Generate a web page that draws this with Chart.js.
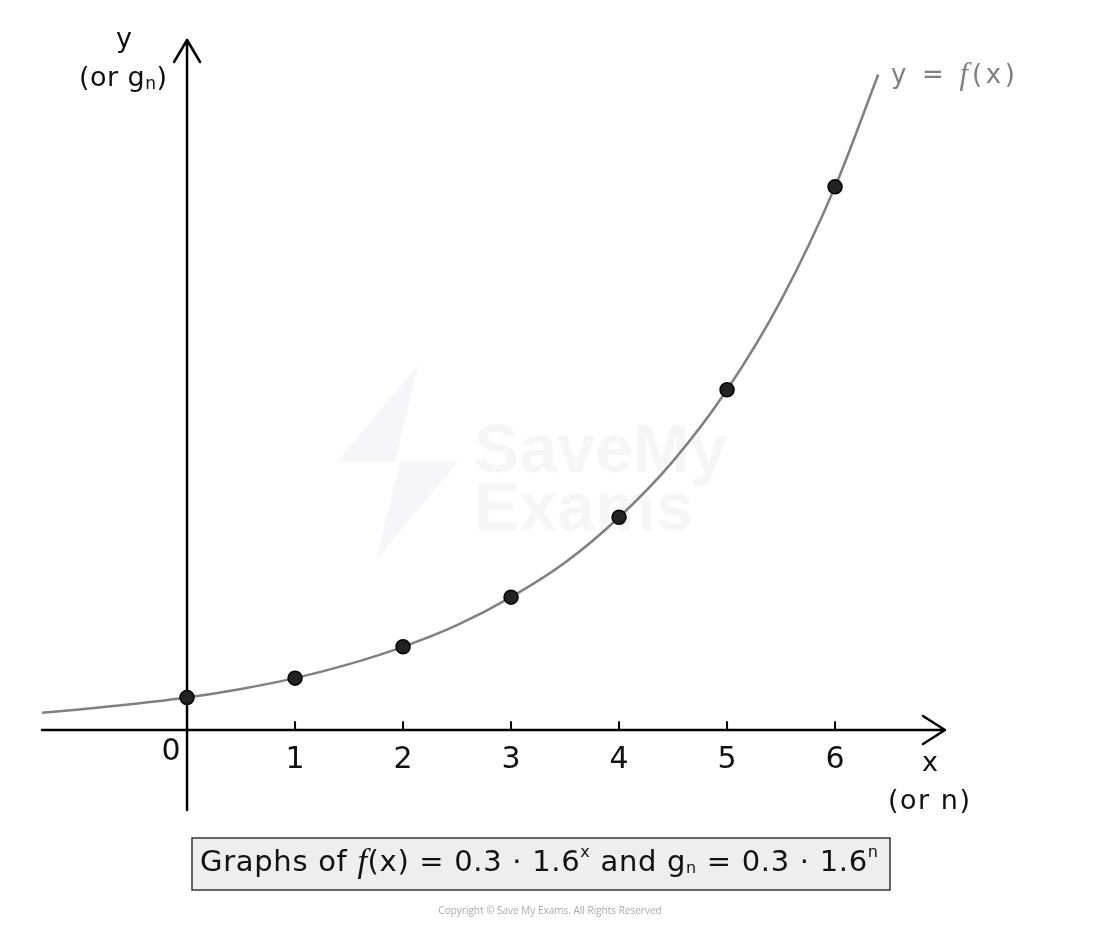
<!DOCTYPE html>
<html>
<head>
<meta charset="utf-8">
<script src="https://cdn.jsdelivr.net/npm/chart.js@4.4.1/dist/chart.umd.min.js"></script>
<style>
  html, body { margin: 0; padding: 0; background: #fff; }
  #wrap { width: 1100px; height: 926px; }
</style>
</head>
<body>
<div id="wrap"><canvas id="chart" width="1100" height="926"></canvas></div>
<script>
// sequence points g_n
const nValues = [0, 1, 2, 3, 4, 5, 6];
const gValues = [0.30, 0.48, 0.77, 1.23, 1.97, 3.15, 5.03];

// curve y = f(x)
const curveX = [-1.35, -1, -0.5, 0, 0.5, 1, 1.5, 2, 2.5, 3, 3.5, 4, 4.5, 5, 5.5, 6, 6.4];
const curveY = [0.16, 0.19, 0.24, 0.30, 0.38, 0.48, 0.61, 0.77, 0.97, 1.23, 1.55, 1.97, 2.49, 3.15, 3.98, 5.03, 6.07];

const xTicks = [1, 2, 3, 4, 5, 6];

const FONT = '"DejaVu Sans", sans-serif';
const FITAL = 'italic 400 31px "Liberation Serif", serif';

// draw text runs spread to a given width
function drawRunsFit(ctx, runs, x, y, width) {
  ctx.textAlign = 'left';
  ctx.textBaseline = 'middle';
  ctx.letterSpacing = '0px';
  let natural = 0, chars = 0;
  runs.forEach(r => { ctx.font = r[1]; natural += ctx.measureText(r[0]).width; chars += r[0].length; });
  const gap = width ? Math.max(0, (width - natural) / Math.max(1, chars - 1)) : 0;
  runs.forEach(r => {
    ctx.font = r[1];
    for (const ch of r[0]) {
      ctx.fillText(ch, x, y + r[2]);
      x += ctx.measureText(ch).width + gap;
    }
  });
}

const axesPlugin = {
  id: 'axesPlugin',
  beforeDatasetsDraw(chart) {
    const ctx = chart.ctx;
    const xs = chart.scales.x, ys = chart.scales.y;
    const x0 = xs.getPixelForValue(0), y0 = ys.getPixelForValue(0);
    const left = xs.left, right = xs.right, top = ys.top, bottom = ys.bottom;

    // watermark
    ctx.save();
    ctx.fillStyle = '#f6f6f8';
    ctx.beginPath();
    ctx.moveTo(418, 365); ctx.lineTo(337, 462); ctx.lineTo(400, 462);
    ctx.lineTo(376, 560); ctx.lineTo(458, 462); ctx.lineTo(395, 462); ctx.closePath();
    ctx.fill();
    ctx.fillStyle = '#f6f6f6';
    ctx.font = 'bold 68px "Liberation Sans", sans-serif';
    ctx.textBaseline = 'alphabetic';
    ctx.fillText('SaveMy', 474, 472);
    ctx.fillText('Exams', 474, 530);
    ctx.restore();

    ctx.save();
    ctx.strokeStyle = '#000';
    ctx.lineWidth = 2.5;
    ctx.lineCap = 'round';
    ctx.lineJoin = 'round';
    // x axis
    ctx.beginPath();
    ctx.moveTo(left, y0); ctx.lineTo(right, y0);
    ctx.moveTo(right - 22, y0 - 14); ctx.lineTo(right, y0); ctx.lineTo(right - 22, y0 + 14);
    // y axis
    ctx.moveTo(x0, bottom); ctx.lineTo(x0, top);
    ctx.moveTo(x0 - 13, top + 22); ctx.lineTo(x0, top); ctx.lineTo(x0 + 13, top + 22);
    ctx.stroke();

    // ticks
    ctx.lineWidth = 2;
    ctx.beginPath();
    xTicks.forEach(t => {
      const px = xs.getPixelForValue(t);
      ctx.moveTo(px, y0 - 8); ctx.lineTo(px, y0);
    });
    ctx.stroke();

    ctx.fillStyle = '#111';
    ctx.textAlign = 'center';
    ctx.textBaseline = 'middle';
    ctx.font = '30px ' + FONT;
    xTicks.forEach(t => ctx.fillText(String(t), xs.getPixelForValue(t), y0 + 30));
    ctx.fillText('0', x0 - 16, y0 + 22);

    // axis labels
    ctx.font = '27px ' + FONT;
    ctx.fillText('x', 930, 764);
    ctx.fillText('y', 124, 40);
    drawRunsFit(ctx, [['(or n)', '27px ' + FONT, 0]], 888, 802, 82);
    drawRunsFit(ctx, [['(or g', '27px ' + FONT, 0], ['n', '17px ' + FONT, 6], [')', '27px ' + FONT, 0]], 79, 79, 88);
    ctx.restore();
  },
  afterDraw(chart) {
    const ctx = chart.ctx;
    ctx.save();
    // curve label
    ctx.fillStyle = '#808080';
    drawRunsFit(ctx, [['y = ', '26px ' + FONT, 0], ['f', FITAL, 0], ['(x)', '26px ' + FONT, 0]], 891, 76, 124);

    // caption box
    ctx.fillStyle = '#eeeeee';
    ctx.fillRect(192, 838, 698, 52);
    ctx.strokeStyle = '#333';
    ctx.lineWidth = 1.5;
    ctx.strokeRect(192, 838, 698, 52);
    ctx.fillStyle = '#111';
    const base = '29px ' + FONT, sup = '16px ' + FONT;
    const runs2 = [
      ['Graphs of ', base, 0],
      ['f', 'italic 400 34px "Liberation Serif", serif', 0],
      ['(x) = 0.3 · 1.6', base, 0],
      ['x', sup, -10],
      [' and g', base, 0],
      ['n', sup, 6],
      [' = 0.3 · 1.6', base, 0],
      ['n', sup, -10]
    ];
    drawRunsFit(ctx, runs2, 200, 863, 678);

    // copyright
    ctx.fillStyle = '#aaaaaa';
    ctx.font = '10px "Open Sans", sans-serif';
    ctx.textAlign = 'center';
    ctx.fillText('Copyright © Save My Exams. All Rights Reserved', 550, 911);
    ctx.restore();
  }
};

new Chart(document.getElementById('chart'), {
  type: 'scatter',
  data: {
    datasets: [
      {
        label: 'g_n',
        data: nValues.map((n, i) => ({ x: n, y: gValues[i] })),
        pointRadius: 7,
        pointBackgroundColor: '#222',
        pointBorderColor: '#000',
        pointBorderWidth: 1.5,
        showLine: false,
        order: 0
      },
      {
        label: 'f(x)',
        data: curveX.map((x, i) => ({ x: x, y: curveY[i] })),
        showLine: true,
        borderColor: '#808080',
        borderWidth: 2.5,
        pointRadius: 0,
        cubicInterpolationMode: 'monotone',
        order: 1
      }
    ]
  },
  options: {
    responsive: false,
    animation: false,
    layout: { padding: { left: 42, right: 155, top: 40, bottom: 116 } },
    plugins: { legend: { display: false }, tooltip: { enabled: false } },
    scales: {
      x: { type: 'linear', min: -1.343, max: 7.018, display: false },
      y: { type: 'linear', min: -0.741, max: 6.389, display: false }
    }
  },
  plugins: [axesPlugin]
});
</script>
</body>
</html>
